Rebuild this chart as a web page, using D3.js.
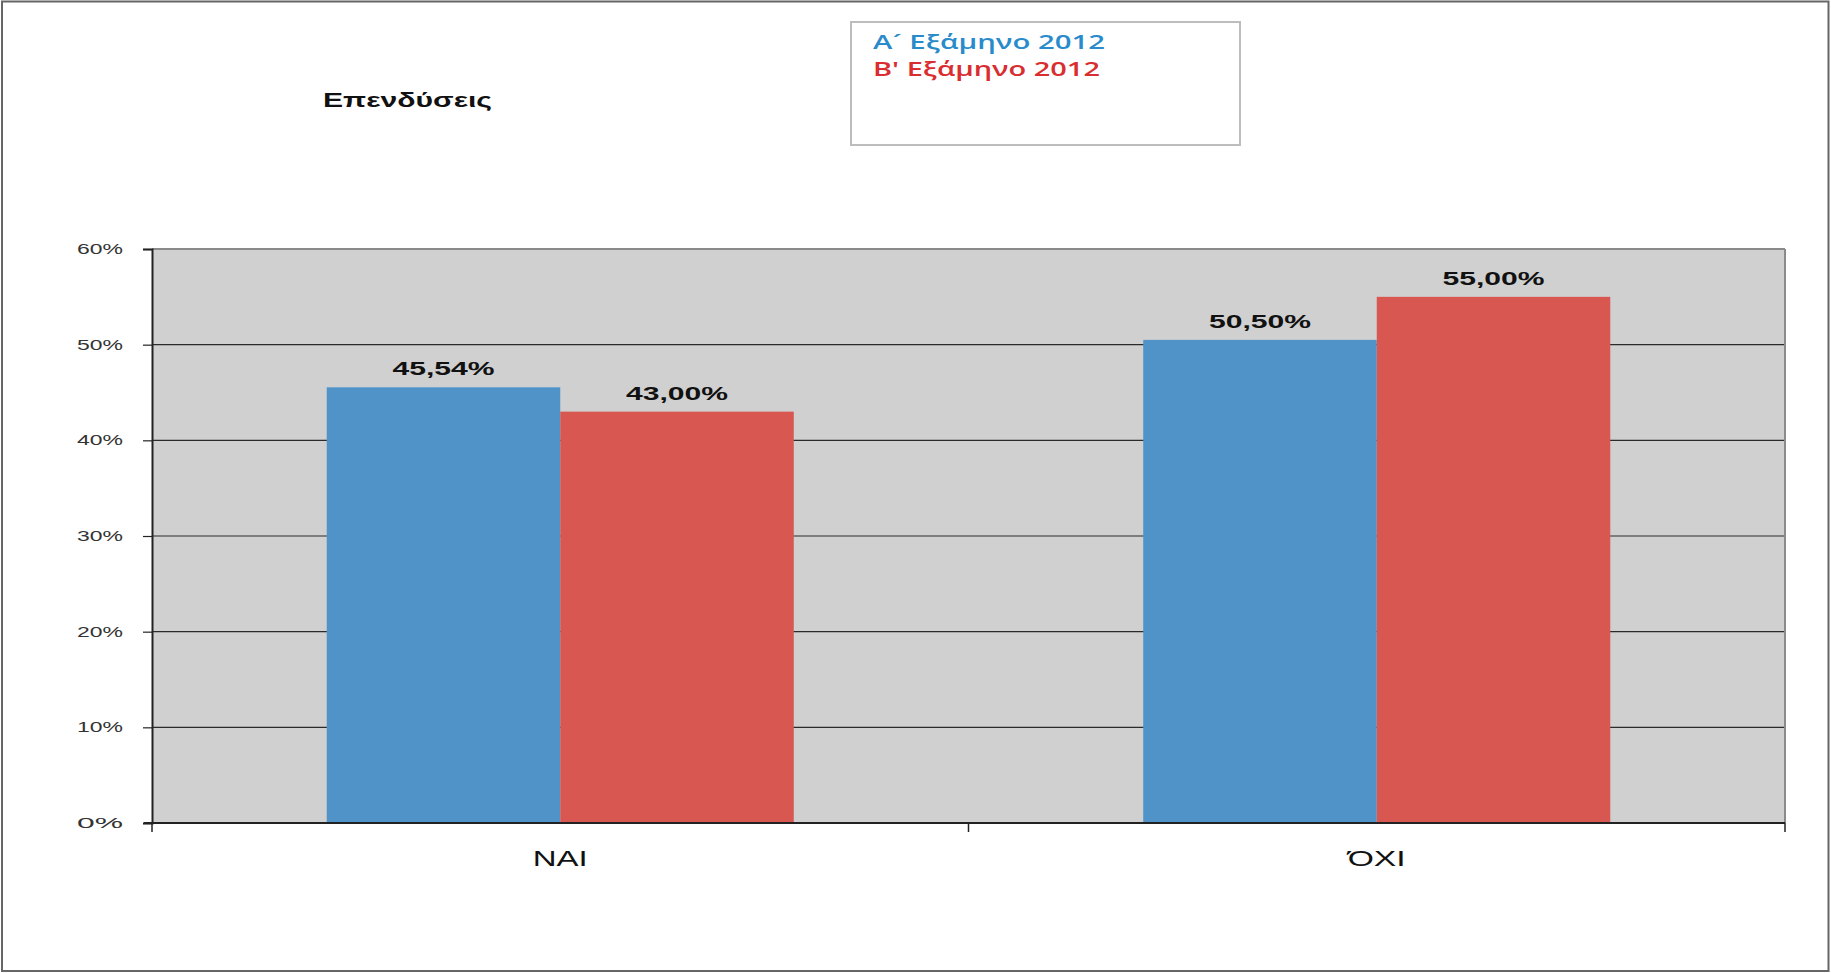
<!DOCTYPE html>
<html>
<head>
<meta charset="utf-8">
<script src="https://cdn.jsdelivr.net/npm/d3@7"></script>
<style>
  html, body { margin: 0; padding: 0; background: #fff; }
  svg { display: block; }
</style>
</head>
<body>
<svg id="chart" width="1831" height="973"></svg>
<script>
// ---- data ----
const categories = ["ΝΑΙ", "ΌΧΙ"];
const seriesNames = ["Α\u00B4 Εξάμηνο 2012", "Β' Εξάμηνο 2012"];
const seriesA = [45.54, 50.50];
const seriesB = [43.00, 55.00];
const yTicks = [0, 10, 20, 30, 40, 50, 60];
const chartTitle = "Επενδύσεις";

const barColors = ["#4f93c9", "#d85851"];
const legendColors = ["#2a8bcb", "#d92d2f"];

const svg = d3.select("#chart");
const W = 1831, H = 973;
const margin = {left: 152, right: W - 1785, top: 249, bottom: H - 823};
const iw = W - margin.left - margin.right;
const ih = H - margin.top - margin.bottom;

// helper for horizontally stretched text (reference is stretched)
function stretch(sel, width) {
  sel.attr("textLength", width).attr("lengthAdjust", "spacingAndGlyphs");
}

// outer frame
svg.append("rect").attr("x", 2).attr("y", 1.5).attr("width", W - 4.5).attr("height", H - 3.5)
  .attr("fill", "none").attr("stroke", "#666").attr("stroke-width", 2);

// title
svg.append("text").attr("x", 323).attr("y", 107)
  .attr("font-family", "Liberation Sans, Arial, sans-serif").attr("font-weight", "bold")
  .attr("font-size", 20).attr("fill", "#111").text(chartTitle)
  .call(stretch, 169);

// legend
const lg = svg.append("g");
lg.append("rect").attr("x", 851).attr("y", 22).attr("width", 389).attr("height", 123)
  .attr("fill", "#fff").attr("stroke", "#bdbdbd").attr("stroke-width", 2);
const legWidths = [232, 227];
seriesNames.forEach((name, i) => {
  lg.append("text").attr("x", 873).attr("y", 49 + i * 27)
    .attr("font-family", "Open Sans, sans-serif").attr("font-weight", 600)
    .attr("font-size", 19.5).attr("fill", legendColors[i]).text(name)
    .call(stretch, legWidths[i]);
});

// scales
const x0 = d3.scaleBand().domain(categories).range([0, iw]).paddingInner(0.428).paddingOuter(0.214);
const x1 = d3.scaleBand().domain([0, 1]).range([0, x0.bandwidth()]);
const y = d3.scaleLinear().domain([0, 60]).range([ih, 0]);

const g = svg.append("g").attr("transform", `translate(${margin.left},${margin.top})`);

// plot background
g.append("rect").attr("width", iw).attr("height", ih).attr("fill", "#d0d0d0");

// gridlines
g.append("g").selectAll("line").data(yTicks.filter(t => t > 0)).join("line")
  .attr("x1", 0).attr("x2", iw).attr("y1", d => y(d)).attr("y2", d => y(d))
  .attr("stroke", d => d === 60 ? "#8a8a8a" : "#2b2b2b").attr("stroke-width", d => d === 60 ? 2 : 1.2);

// right border
g.append("line").attr("x1", iw).attr("x2", iw).attr("y1", 0).attr("y2", ih)
  .attr("stroke", "#8a8a8a").attr("stroke-width", 2);

// bars
const rows = categories.map((c, i) => ({cat: c, vals: [seriesA[i], seriesB[i]]}));
const cg = g.selectAll(".cat").data(rows).join("g").attr("transform", d => `translate(${x0(d.cat)},0)`);
cg.selectAll("rect").data(d => d.vals.map((v, k) => ({v, k}))).join("rect")
  .attr("x", d => x1(d.k)).attr("width", x1.bandwidth())
  .attr("y", d => y(d.v)).attr("height", d => ih - y(d.v))
  .attr("fill", d => barColors[d.k]);
cg.selectAll("text").data(d => d.vals.map((v, k) => ({v, k}))).join("text")
  .attr("x", d => x1(d.k) + x1.bandwidth() / 2).attr("y", d => y(d.v) - 12)
  .attr("text-anchor", "middle")
  .attr("font-family", "Liberation Sans, Arial, sans-serif").attr("font-weight", "bold")
  .attr("font-size", 18).attr("fill", "#111")
  .text(d => d.v.toFixed(2).replace(".", ",") + "%")
  .call(stretch, 102);

// y axis
const yAxis = d3.axisLeft(y).tickValues(yTicks).tickSize(9).tickPadding(20).tickFormat(d => d + "%");
const ya = g.append("g").call(yAxis);
ya.select(".domain").attr("stroke", "#222").attr("stroke-width", 2);
ya.selectAll(".tick line").attr("stroke", "#222").attr("stroke-width", 1.2);
ya.selectAll(".tick text").attr("font-family", "Liberation Sans, Arial, sans-serif")
  .attr("font-size", 14).attr("fill", "#333").call(stretch, 46);

// x axis
const xa = g.append("g").attr("transform", `translate(0,${ih})`);
xa.append("line").attr("x1", -8).attr("x2", iw).attr("stroke", "#222").attr("stroke-width", 2);
const boundaries = [0, ...categories.map(c => x0(c) + x0.bandwidth() + x0.step() * x0.paddingInner() / 2)];
xa.selectAll(".xt").data(boundaries).join("line")
  .attr("x1", d => d).attr("x2", d => d).attr("y1", 0).attr("y2", 9)
  .attr("stroke", "#222").attr("stroke-width", 1.5);
const xlw = [55, 58];
xa.selectAll(".xl").data(categories).join("text")
  .attr("x", d => x0(d) + x0.bandwidth() / 2).attr("y", 43)
  .attr("text-anchor", "middle")
  .attr("font-family", "Liberation Sans, Arial, sans-serif")
  .attr("font-size", 22).attr("fill", "#111").text(d => d)
  .each(function(d, i) { d3.select(this).call(stretch, xlw[i]); });
</script>
</body>
</html>
